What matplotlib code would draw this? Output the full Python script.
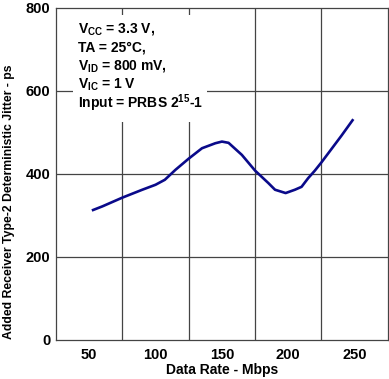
import numpy as np
import matplotlib.pyplot as plt

plt.rcParams['font.family'] = ['Liberation Sans', 'DejaVu Sans']
plt.rcParams['font.weight'] = 'bold'
plt.rcParams['mathtext.fontset'] = 'custom'
plt.rcParams['mathtext.rm'] = 'Liberation Sans:bold'
plt.rcParams['mathtext.it'] = 'Liberation Sans:bold'
plt.rcParams['mathtext.bf'] = 'Liberation Sans:bold'
plt.rcParams['mathtext.default'] = 'rm'

# curve
rate = [52, 60, 75, 90, 100, 107, 115, 125, 135, 145, 150, 155, 165, 170, 175,
        185, 190, 198, 205, 210, 215, 220, 225, 240, 249]
jitter = [312, 322, 343, 362, 374, 386, 410, 437, 462, 474, 478, 475, 446, 427, 408,
          378, 362, 354, 362, 369, 390, 408, 428, 492, 532]

x_ticks = [50, 100, 150, 200, 250]
x_grid = [75, 125, 175, 225]
y_ticks = [0, 200, 400, 600, 800]

notes = ["V$_{CC}$ = 3.3 V,", "TA = 25°C,", "V$_{ID}$ = 800 mV,", "V$_{IC}$ = 1 V",
         "Input = PRBS 2$^{15}$-1"]

fig = plt.figure(figsize=(3.89, 3.79), dpi=100)
ax = fig.add_axes([0.144, 0.103, 0.853, 0.876])

ax.set_xlim(25, 275)
ax.set_ylim(0, 800)
ax.set_xticks(x_ticks)
ax.set_yticks(y_ticks)
ax.tick_params(axis='x', length=0, labelsize=10.5, pad=6)
ax.tick_params(axis='y', length=0, labelsize=10.5, pad=4)
for lab in ax.get_xticklabels() + ax.get_yticklabels():
    lab.set_fontweight('bold')

for y in y_ticks[1:-1]:
    ax.axhline(y, color='#444444', lw=0.9, zorder=1)
for x in x_grid:
    ax.axvline(x, color='#444444', lw=0.9, zorder=1)

for s in ax.spines.values():
    s.set_color('#444444')
    s.set_linewidth(0.9)

ax.plot(rate, jitter, color='#0a0a8a', lw=1.9, zorder=3, solid_capstyle='butt')

# white box behind the notes, covering the grid
ax.add_patch(plt.Rectangle((37.5, 525), 101, 258, facecolor='white', edgecolor='none',
                           zorder=2))
y0 = 0.938
for i, t in enumerate(notes):
    ax.text(0.066, y0 - i * 0.056, t, transform=ax.transAxes, fontsize=10,
            fontweight='bold', va='center', ha='left', zorder=4)

ax.set_xlabel("Data Rate - Mbps", fontsize=10, fontweight='bold')
ax.set_ylabel("Added Receiver Type-2 Deterministic Jitter - ps", fontsize=8.8,
              fontweight='bold')
ax.xaxis.set_label_coords(0.5, -0.07)
ax.yaxis.set_label_coords(-0.125, 0.415)

fig.savefig("out.png", dpi=100)
